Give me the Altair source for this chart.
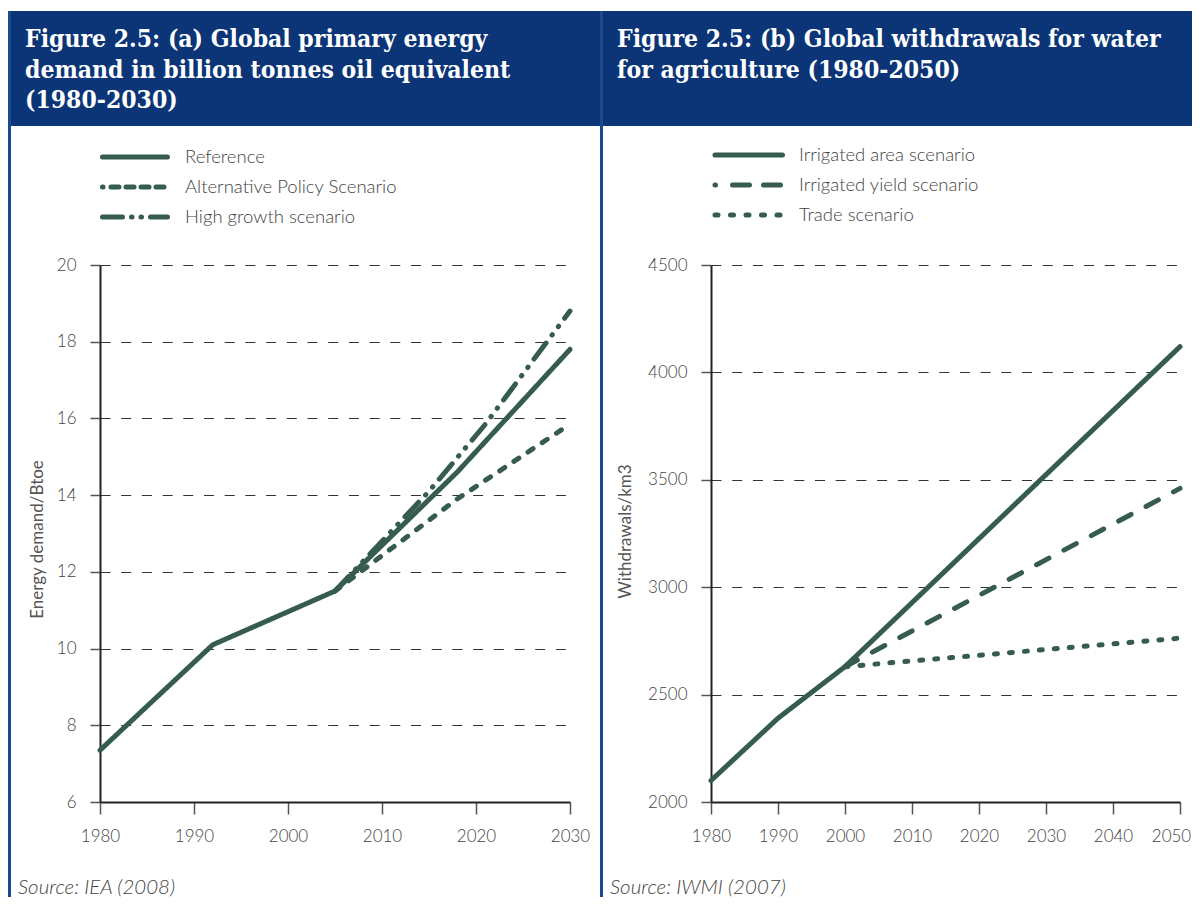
import altair as alt
import pandas as pd

# ---------------- Data ----------------
# (a) Global primary energy demand, Btoe
ref_years = [1980, 1992, 2005, 2018, 2030]
ref_vals = [7.35, 10.1, 11.5, 14.6, 17.8]
alt_years = [2005, 2018, 2030]
alt_vals = [11.5, 13.9, 15.85]
high_years = [2005, 2015, 2021, 2030]
high_vals = [11.5, 14.1, 15.85, 18.8]

# (b) Global withdrawals for water for agriculture, km3
area_years = [1980, 1990, 2000, 2050]
area_vals = [2100, 2390, 2630, 4120]
yield_years = [2000, 2050]
yield_vals = [2630, 3460]
trade_years = [2000, 2050]
trade_vals = [2630, 2763]

energy_x_ticks = [1980, 1990, 2000, 2010, 2020, 2030]
energy_y_ticks = [6, 8, 10, 12, 14, 16, 18, 20]
water_x_ticks = [1980, 1990, 2000, 2010, 2020, 2030, 2040, 2050]
water_y_ticks = [2000, 2500, 3000, 3500, 4000, 4500]

energy_names = ["Reference", "Alternative Policy Scenario", "High growth scenario"]
water_names = ["Irrigated area scenario", "Irrigated yield scenario", "Trade scenario"]

energy_title = "Figure 2.5: (a) Global primary energy\ndemand in billion tonnes oil equivalent\n(1980-2030)"
water_title = "Figure 2.5: (b) Global withdrawals for water\nfor agriculture (1980-2050)"

# ---------------- Styling ----------------
GREEN = "#355c4f"
NAVY = "#0b3576"
BORDER = "#1d4a8c"
TEXT = "#444444"
FONT = "Lato"
TFONT = "'DejaVu Serif Condensed', 'DejaVu Serif', serif"
H = 537

DASH_SOLID = [1, 0]
DASH_ALT = [6, 11]
DASH_HIGH = [20, 10, 0.5, 10, 0.5, 10]
DASH_YIELD = [14, 17]
DASH_TRADE = [3, 12]

one = pd.DataFrame({"k": [0]})


def series_chart(years, vals, dash, xs, ys):
    df = pd.DataFrame({"year": years, "value": vals})
    return alt.Chart(df).mark_line(
        color=GREEN, strokeWidth=5, strokeCap="round", strokeJoin="round",
        strokeDash=dash,
    ).encode(x=xs, y=ys)


def panel(width, series, x_ticks, y_ticks, y_title, y_title_x, y_title_y,
          title, hx0, hx1, border_x, title_x,
          leg_x0, leg_x1, leg_tx, leg_ys, names, dashes,
          source, source_x, last_label_shift=0):
    xaxis_kw = {}
    if last_label_shift:
        xaxis_kw["labelOffset"] = alt.condition(
            f"datum.value == {x_ticks[-1]}", alt.value(last_label_shift), alt.value(0))
    xs = alt.X(
        "year:Q",
        scale=alt.Scale(domain=[x_ticks[0], x_ticks[-1]], nice=False, zero=False),
        axis=alt.Axis(
            values=x_ticks, format="d", title=None, grid=False,
            tickSize=12, tickColor="#555", tickWidth=1.5,
            domainColor="#222", domainWidth=2,
            labelFont=FONT, labelFontSize=17, labelFontWeight=300, labelColor=TEXT,
            labelPadding=14, labelFlush=False, labelOverlap=False,
            **xaxis_kw,
        ),
    )
    ys = alt.Y(
        "value:Q",
        scale=alt.Scale(domain=[y_ticks[0], y_ticks[-1]], nice=False, zero=False),
        axis=alt.Axis(
            values=y_ticks, format="d", title=y_title, grid=True,
            gridDash=[10, 10.7], gridColor="#333", gridWidth=1.2,
            tickSize=10, tickColor="#555", tickWidth=1.5,
            domainColor="#222", domainWidth=2,
            labelFont=FONT, labelFontSize=17, labelFontWeight=300, labelColor=TEXT,
            labelPadding=14, labelFlush=False, labelOverlap=False,
            titleFont=FONT, titleFontSize=17, titleFontWeight="normal",
            titleColor="#555555", titleAngle=270, titleX=y_title_x, titleY=y_title_y,
            titleAlign="center", titleBaseline="middle",
        ),
    )
    layers = []
    # header bar & border
    layers.append(alt.Chart(one).mark_rect(color=NAVY).encode(
        x=alt.value(hx0), x2=alt.value(hx1), y=alt.value(-254), y2=alt.value(-139)))
    layers.append(alt.Chart(one).mark_rule(color=BORDER, strokeWidth=3).encode(
        x=alt.value(border_x), y=alt.value(-254), y2=alt.value(632)))
    layers.append(alt.Chart(one).mark_text(
        align="left", baseline="alphabetic", lineBreak="\n", lineHeight=30.5,
        font=TFONT, fontSize=24.5, fontWeight="bold", color="white",
    ).encode(x=alt.value(title_x), y=alt.value(-218), text=alt.value(title)))
    # legend
    for name, dash, ly in zip(names, dashes, leg_ys):
        layers.append(alt.Chart(one).mark_rule(
            color=GREEN, strokeWidth=5, strokeCap="round", strokeDash=dash,
        ).encode(x=alt.value(leg_x0), x2=alt.value(leg_x1), y=alt.value(ly)))
        layers.append(alt.Chart(one).mark_text(
            align="left", baseline="middle", font=FONT, fontSize=18.5,
            fontWeight=300, color=TEXT,
        ).encode(x=alt.value(leg_tx), y=alt.value(ly), text=alt.value(name)))
    # source
    layers.append(alt.Chart(one).mark_text(
        align="left", baseline="alphabetic", font=FONT, fontSize=20.5,
        fontWeight=300, fontStyle="italic", color=TEXT,
    ).encode(x=alt.value(source_x), y=alt.value(629), text=alt.value(source)))
    # data lines (solid drawn last)
    for (yrs, vals, dash) in reversed(series):
        layers.append(series_chart(yrs, vals, dash, xs, ys))
    return alt.layer(*layers).properties(width=width, height=H)


left = panel(
    470,
    [(ref_years, ref_vals, DASH_SOLID), (alt_years, alt_vals, DASH_ALT),
     (high_years, high_vals, DASH_HIGH)],
    energy_x_ticks, energy_y_ticks, "Energy demand/Btoe", -63, 274,
    energy_title, -92, 500, -90.5, -75,
    2.5, 67.5, 85, [-108, -78, -48], energy_names,
    [DASH_SOLID, [0.5, 8, 8, 7, 8, 7, 8, 7, 8, 100], [20, 9, 0.5, 9, 0.5, 9]],
    "Source: IEA (2008)", -82,
)

right = panel(
    469,
    [(area_years, area_vals, DASH_SOLID), (yield_years, yield_vals, DASH_YIELD),
     (trade_years, trade_vals, DASH_TRADE)],
    water_x_ticks, water_y_ticks, "Withdrawals/km3", -86, 266,
    water_title, -108, 481, -109.5, -94,
    4, 71.5, 88, [-110, -80, -50], water_names,
    [DASH_SOLID, [0.5, 17, 17, 14, 17, 1000], [3, 12.5]],
    "Source: IWMI (2007)", -101,
    last_label_shift=-9,
)

chart = alt.hconcat(left, right, spacing=141, bounds="flush").properties(
    padding={"left": 0, "top": 1, "right": 0, "bottom": 0},
).configure_view(stroke=None)

chart.save("out.html", embed_options={"renderer": "svg", "actions": False})
